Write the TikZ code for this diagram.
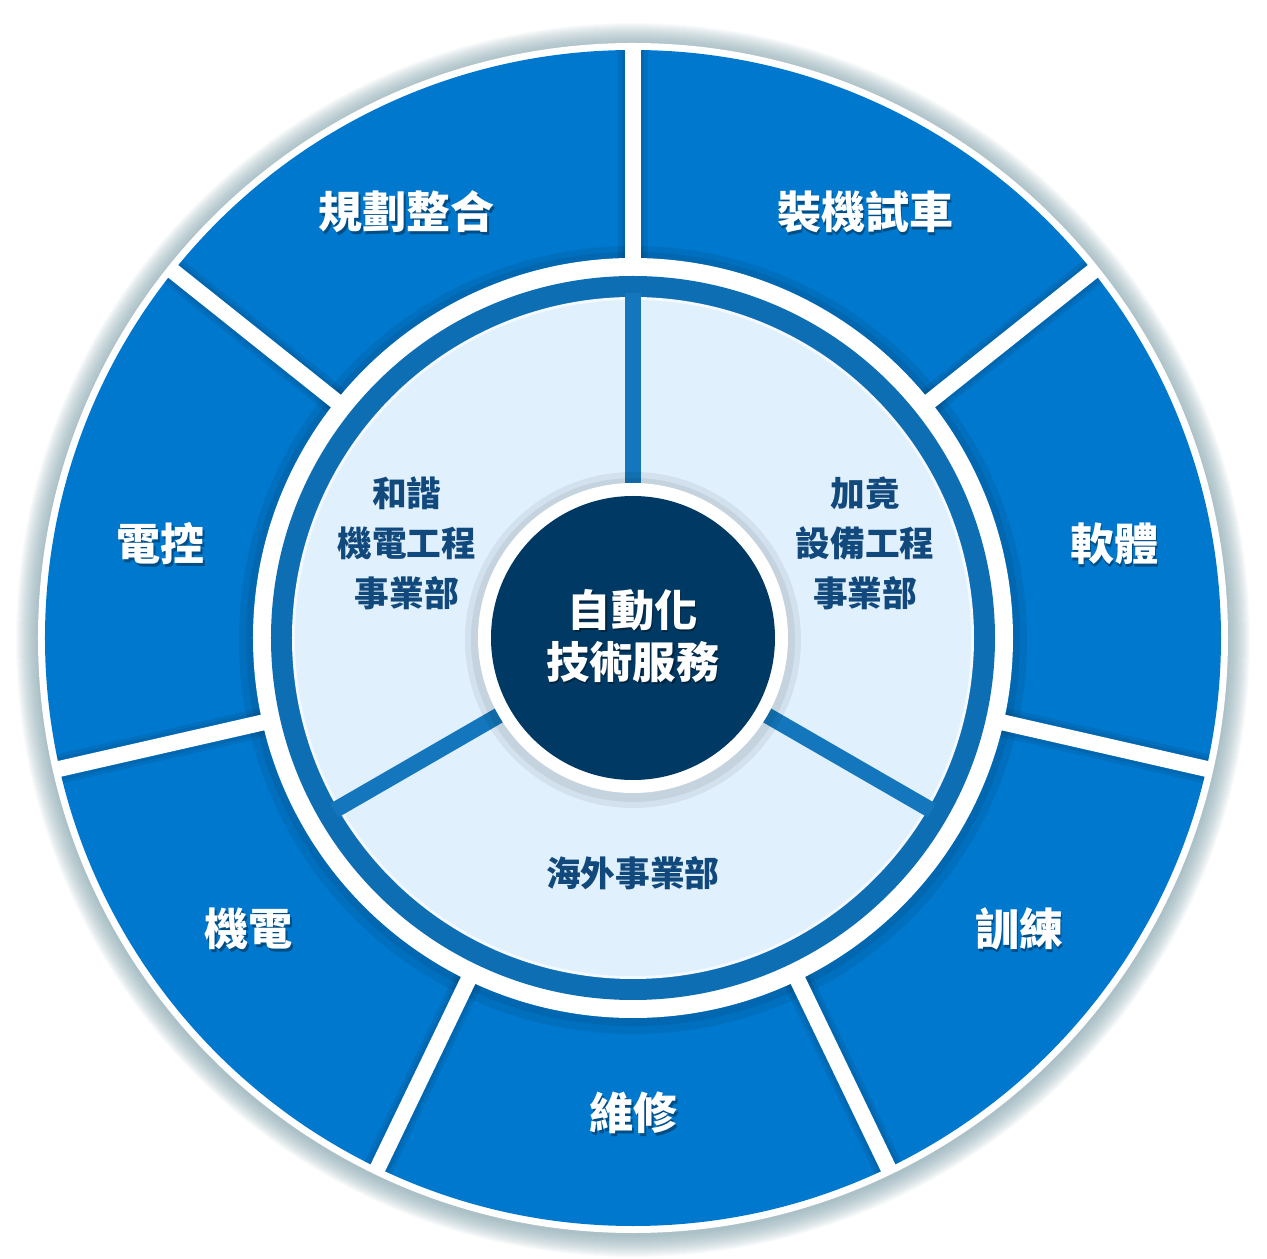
\documentclass[tikz,border=0pt]{standalone}
\usepackage{fontspec}
\newfontfamily\cjk{Noto Sans CJK TC}
\definecolor{outerblue}{RGB}{0,120,205}
\definecolor{ringblue}{RGB}{14,110,180}
\definecolor{spokeblue}{RGB}{20,118,188}
\definecolor{lightdisc}{RGB}{224,240,252}
\definecolor{navy}{RGB}{0,57,100}
\definecolor{innertext}{RGB}{18,73,124}
\definecolor{glowc}{RGB}{120,155,165}
\tikzset{
  outerlabel/.style={font=\cjk\bfseries\fontsize{33}{40}\selectfont, text=white, align=center, inner sep=0pt},
  innerlabel/.style={font=\cjk\bfseries\fontsize{26}{37.5}\selectfont, text=innertext, align=center, inner sep=0pt},
  centerlabel/.style={font=\cjk\bfseries\fontsize{32.5}{39}\selectfont, text=white, align=center, inner sep=0pt},
  textshade/.style={text=black, text opacity=0.35, xshift=1pt, yshift=-1.8pt},
  gapline/.style={white, line width=12pt},
  gapshade/.style={black, opacity=0.07, line width=#1},
  spoke/.style={spokeblue, line width=12pt}
}
\begin{document}
\begin{tikzpicture}[x=0.75pt,y=0.75pt]
\useasboundingbox (-633,-621) rectangle (634,638);
% outer glow
\foreach \k in {1,...,22}{
  \fill[glowc, opacity=0.045] (0,-2) circle ({595+\k});
}
% outer disc with white rim
\fill[white] (0,0) circle (595);
\fill[outerblue] (0,0) circle (588);
% gaps between the seven outer segments
\foreach \k in {0,...,6}{
  \pgfmathsetmacro{\a}{90+\k*360/7}
  \draw[gapshade=22pt] (\a:372) -- (\a:588);
  \draw[gapshade=17pt] (\a:372) -- (\a:588);
}
\fill[black, opacity=0.07] (0,-2) circle (394);
\fill[black, opacity=0.07] (0,-1) circle (387);
\foreach \k in {0,...,6}{
  \pgfmathsetmacro{\a}{90+\k*360/7}
  \draw[gapline] (\a:370) -- (\a:591);
}
% inner rings
\fill[white] (0,0) circle (380);
\fill[ringblue] (0,0) circle (362);
\fill[white!60!lightdisc] (0,0) circle (341);
\fill[lightdisc] (0,0) circle (338);
% spokes of the inner disc
\foreach \a in {90,210,330}{
  \draw[spoke] (\a:150) -- (\a:345);
}
% centre
\fill[black, opacity=0.06] (0,-2) circle (168);
\fill[black, opacity=0.06] (0,-2) circle (162);
\fill[white] (0,0) circle (155);
\fill[navy] (0,0) circle (142);
% outer labels
\foreach \p/\t in {{-226,426}/規劃整合,{232,426}/裝機試車,{-472,94}/電控,{481,94}/軟體,{-384,-291}/機電,{386,-291}/訓練,{1,-475}/維修}{
  \node[outerlabel, textshade] at (\p) {\t};
}
\node[outerlabel] (plan) at (-226,426) {規劃整合};
\node[outerlabel] (assembly) at (232,426) {裝機試車};
\node[outerlabel] (control) at (-472,94) {電控};
\node[outerlabel] (software) at (481,94) {軟體};
\node[outerlabel] (mech) at (-384,-291) {機電};
\node[outerlabel] (training) at (386,-291) {訓練};
\node[outerlabel] (repair) at (1,-475) {維修};
% inner labels
\node[innerlabel] (hexie) at (-226,95) {和諧\\機電工程\\事業部};
\node[innerlabel] (jiajing) at (232,95) {加竟\\設備工程\\事業部};
\node[innerlabel] (overseas) at (0,-235) {海外事業部};
% centre label
\node[centerlabel, textshade] at (0,2) {自動化\\技術服務};
\node[centerlabel] (core) at (0,2) {自動化\\技術服務};
\end{tikzpicture}
\end{document}
